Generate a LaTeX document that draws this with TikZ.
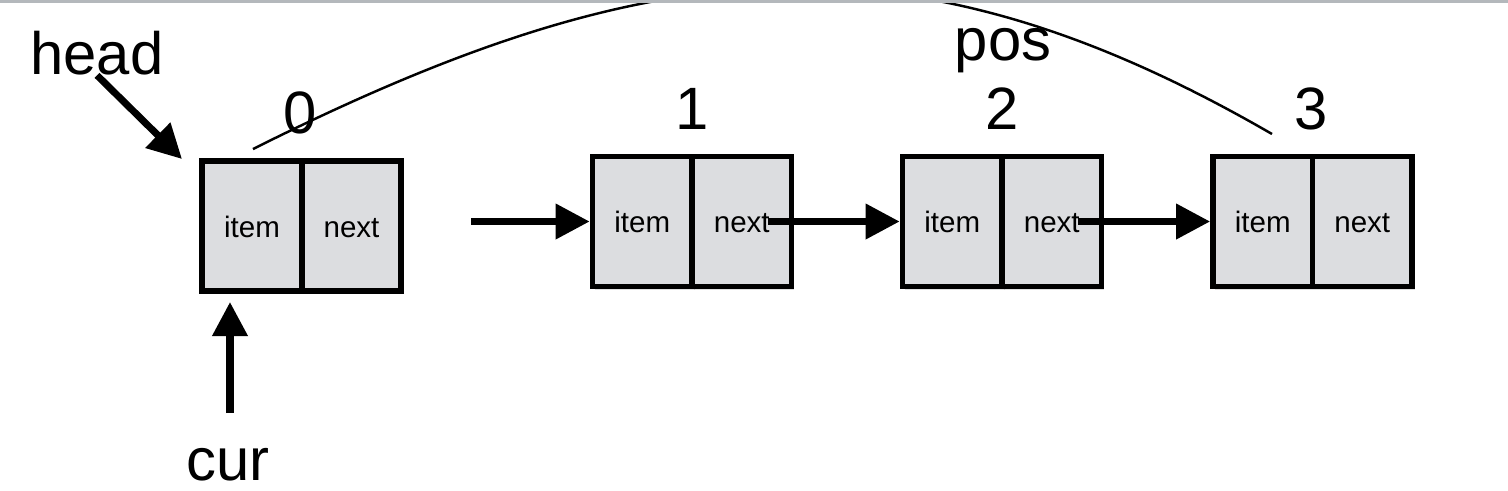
\documentclass[tikz,border=0pt]{standalone}
\usepackage{fontspec}
\setmainfont{Liberation Sans}
\usetikzlibrary{arrows.meta,shadows}
\definecolor{boxfill}{RGB}{220,221,224}
\definecolor{bandgray}{RGB}{180,184,188}
\tikzset{
  cell/.style={draw=black, line width=1.6pt, fill=boxfill,
    minimum width=0.995cm, minimum height=1.3cm, inner sep=0pt,
    text height=6.5pt, text depth=0pt,
    font=\fontsize{8.4}{10}\selectfont,
    drop shadow={shadow xshift=0.025cm, shadow yshift=-0.03cm, opacity=0.25}},
  biglabel/.style={anchor=base, inner sep=0pt, font=\fontsize{17}{20}\selectfont},
  arr/.style={line width=2pt, -{Triangle[length=0.34cm,width=0.34cm]}},
  poscurve/.style={line width=0.7pt},
}
\begin{document}
\begin{tikzpicture}[x=0.01cm, y=-0.01cm]
\useasboundingbox (0,0) rectangle (1508,490);
\fill[white] (0,0) rectangle (1508,490);
\clip (0,0) rectangle (1508,490);

% list nodes
\node[cell] (n0i) at (252,226) {item};
\node[cell] (n0n) at (351.5,226) {next};
\node[cell] (n1i) at (642.25,221.5) {item};
\node[cell] (n1n) at (741.75,221.5) {next};
\node[cell] (n2i) at (952.25,221.5) {item};
\node[cell] (n2n) at (1051.75,221.5) {next};
\node[cell] (n3i) at (1262.75,221.5) {item};
\node[cell] (n3n) at (1362.25,221.5) {next};

% labels
\node[biglabel] (head) at (97,74) {head};
\node[biglabel] (l0) at (300,133) {0};
\node[biglabel] (l1) at (692,129) {1};
\node[biglabel] (l2) at (1002,129) {2};
\node[biglabel] (l3) at (1311,129) {3};
\node[biglabel] (pos) at (1003,60) {pos};
\node[biglabel] (cur) at (228,480) {cur};

% free ends
\coordinate (headtip) at (182,159);
\coordinate (curtail) at (230,413);
\coordinate (curtip) at (230,302);
\coordinate (floattail) at (471,221.5);
\coordinate (cs) at (253,149);
\coordinate (ce) at (1272,134);

% arrows
\draw[arr] (head.south) -- (headtip);
\draw[arr] (curtail) -- (curtip);
\draw[arr] (floattail) -- (n1i.west);
\draw[arr] ([xshift=0.26cm]n1n.center) -- (n2i.west);
\draw[arr] ([xshift=0.26cm]n2n.center) -- (n3i.west);

% pos curve
\draw[poscurve] (cs) .. controls (643,-46) and (902,-80) .. (ce);

% top band
\fill[bandgray] (0,0) rectangle (1508,3);
\end{tikzpicture}
\end{document}
